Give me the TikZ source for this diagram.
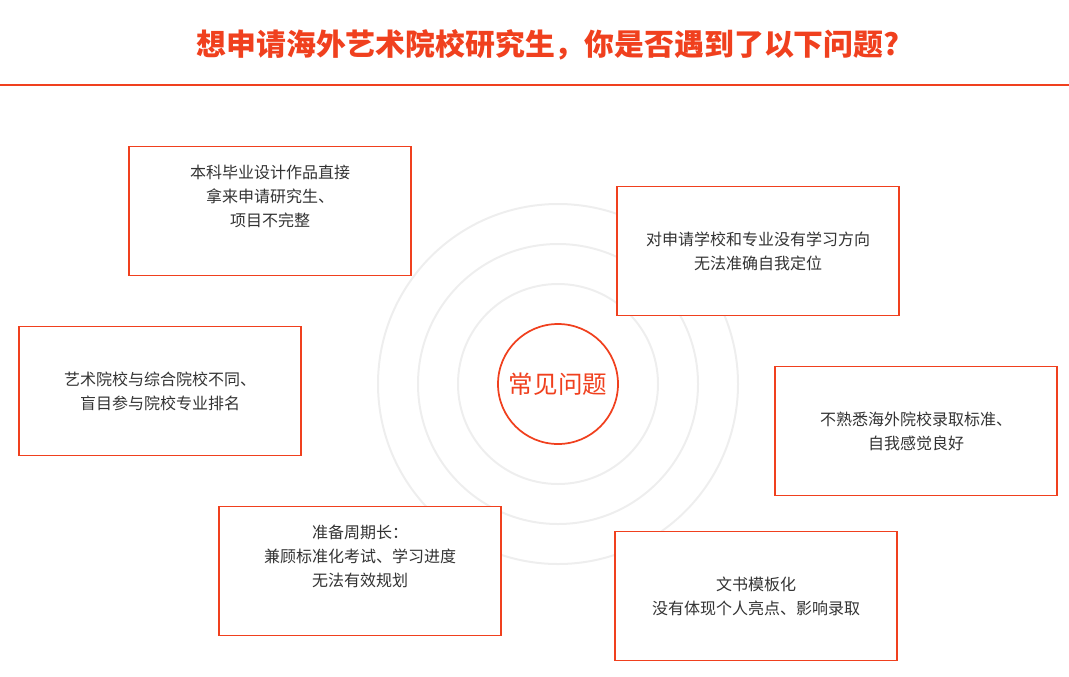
\documentclass[tikz,border=0pt]{standalone}
\usepackage{fontspec}
\newfontfamily\cjk{Noto Sans CJK SC}
\definecolor{hired}{HTML}{F0401E}
\definecolor{ringgray}{HTML}{EEEEEE}
\tikzset{
  probbox/.style={draw=hired,line width=1.3pt,fill=white,align=center,text=black!80,
    minimum width=282*0.75pt,minimum height=129*0.75pt,font=\cjk\fontsize{12}{18}\selectfont},
  ring/.style={draw=ringgray,line width=1.5pt}
}
\begin{document}
\begin{tikzpicture}[x=0.75pt,y=-0.75pt]
  \useasboundingbox (0,0) rectangle (1069,676);

  % title
  \node[text=hired,font=\cjk\bfseries\fontsize{22.4}{25}\selectfont] (Title) at (548,45) {想申请海外艺术院校研究生，你是否遇到了以下问题?};
  \draw[hired,line width=1.2pt] (0,85) -- (1069,85);

  % rings
  \foreach \r in {100,140,180}
    \draw[ring] (558,384) circle[radius=\r*0.75pt];
  \node[circle,draw=hired,line width=1.3pt,fill=white,minimum size=120*0.75pt,
        text=hired,font=\cjk\fontsize{18.4}{22}\selectfont] (Core) at (558,384) {常见问题};

  % boxes (three-line ones sit a little low)
  \node[probbox] (ProbA) at (270,211) {本科毕业设计作品直接\\拿来申请研究生、\\项目不完整\\\strut};
  \node[probbox] (ProbB) at (758,251) {对申请学校和专业没有学习方向\\无法准确自我定位};
  \node[probbox] (ProbC) at (160,391) {艺术院校与综合院校不同、\\盲目参与院校专业排名};
  \node[probbox] (ProbD) at (916,431) {不熟悉海外院校录取标准、\\自我感觉良好};
  \node[probbox] (ProbE) at (360,571) {准备周期长：\\兼顾标准化考试、学习进度\\无法有效规划\\\strut};
  \node[probbox] (ProbF) at (756,596) {文书模板化\\没有体现个人亮点、影响录取};
\end{tikzpicture}
\end{document}
